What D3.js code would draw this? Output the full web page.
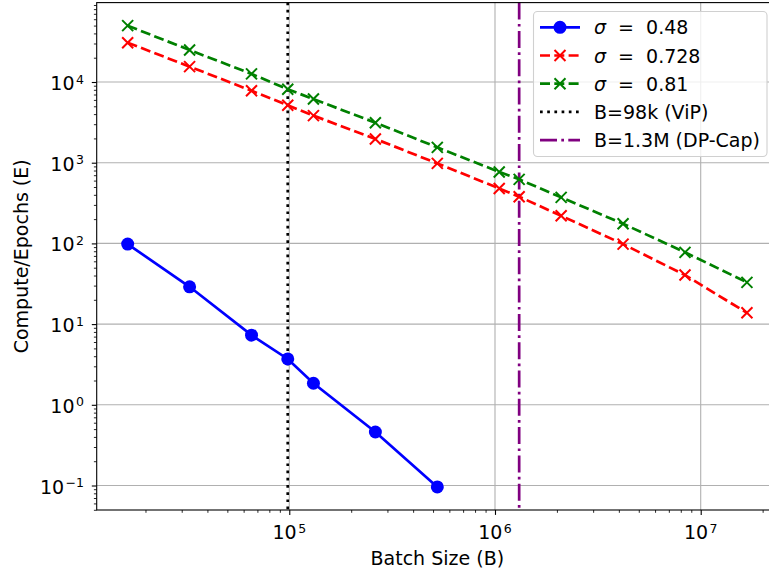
<!DOCTYPE html>
<html>
<head>
<meta charset="utf-8">
<script src="https://cdn.jsdelivr.net/npm/d3@7"></script>
<style>
body { margin: 0; background: #fff; }
svg { font-family: "DejaVu Sans", sans-serif; }
</style>
</head>
<body>
<svg width="769" height="573"></svg>
<script>
// batch sizes
var batchSmall = [16384, 32768, 65536, 98304, 131072, 262144, 524288];
var batchLarge = [16384, 32768, 65536, 98304, 131072, 262144, 524288, 1048576, 1310720, 2097152, 4194304, 8388608, 16777216];

// epochs
var sigma048 = [98, 29, 7.3, 3.7, 1.85, 0.46, 0.096];
var sigma0728 = [30700, 15500, 7800, 5140, 3830, 1970, 980, 480, 379, 220, 98, 40.5, 13.8];
var sigma081 = [49900, 24900, 12600, 8120, 6150, 3130, 1550, 767, 622, 372, 175, 77.5, 32.9];

var vipBatch = 98304;
var dpcapBatch = 1310720;

var sigmaLabels = ["0.48", "0.728", "0.81"];
var lineLabels = ["B=98k (ViP)", "B=1.3M (DP-Cap)"];
var xTicks = [1e5, 1e6, 1e7];
var yTicks = [1e-1, 1e0, 1e1, 1e2, 1e3, 1e4];

var box = {left: 96.7, right: 777.9, top: 2.6, bottom: 510};
var svg = d3.select("svg");

var logPad = function(vals)
{
    var lo = Math.log10(d3.min(vals)), hi = Math.log10(d3.max(vals));
    var m = (hi - lo) * 0.05;
    return [Math.pow(10, lo - m), Math.pow(10, hi + m)];
}

var xScale = d3.scaleLog()
    .domain(logPad(batchSmall.concat(batchLarge)))
    .range([box.left, box.right]);
var yScale = d3.scaleLog()
    .domain(logPad(sigma048.concat(sigma0728, sigma081)))
    .range([box.bottom, box.top]);

var minorOf = function(scale)
{
    var d = scale.domain(), out = [];
    for (var e = Math.floor(Math.log10(d[0])); e <= Math.ceil(Math.log10(d[1])); e++)
        for (var k = 2; k < 10; k++)
        {
            var v = k * Math.pow(10, e);
            if (v >= d[0] && v <= d[1]) out.push(v);
        }
    return out;
}

// grid
var grid = svg.append("g");
grid.selectAll(".gx").data(xTicks).enter().append("line")
    .attr("x1", function(d){return xScale(d);}).attr("x2", function(d){return xScale(d);})
    .attr("y1", box.top).attr("y2", box.bottom)
    .attr("stroke", "#b0b0b0").attr("stroke-width", 1.1);
grid.selectAll(".gy").data(yTicks).enter().append("line")
    .attr("y1", function(d){return yScale(d);}).attr("y2", function(d){return yScale(d);})
    .attr("x1", box.left).attr("x2", box.right)
    .attr("stroke", "#b0b0b0").attr("stroke-width", 1.1);

// vertical reference lines
svg.append("line")
    .attr("x1", xScale(vipBatch)).attr("x2", xScale(vipBatch))
    .attr("y1", box.top).attr("y2", box.bottom)
    .attr("stroke", "black").attr("stroke-width", 2.7)
    .attr("stroke-dasharray", "2.7,4.5");
svg.append("line")
    .attr("x1", xScale(dpcapBatch)).attr("x2", xScale(dpcapBatch))
    .attr("y1", box.top).attr("y2", box.bottom)
    .attr("stroke", "purple").attr("stroke-width", 2.7)
    .attr("stroke-dasharray", "17,4.3,2.7,4.3");

var line = d3.line()
    .x(function(d){return xScale(d[0]);})
    .y(function(d){return yScale(d[1]);});

var xMark = function(g, cx, cy, color)
{
    var s = 5.5;
    g.append("path")
        .attr("d", "M" + (cx - s) + "," + (cy - s) + "L" + (cx + s) + "," + (cy + s) +
                   "M" + (cx - s) + "," + (cy + s) + "L" + (cx + s) + "," + (cy - s))
        .attr("stroke", color).attr("stroke-width", 2).attr("fill", "none");
}

var series = [
    {xs: batchSmall, ys: sigma048, color: "blue", dash: null, marker: "o"},
    {xs: batchLarge, ys: sigma0728, color: "red", dash: "10,4.3", marker: "x"},
    {xs: batchLarge, ys: sigma081, color: "green", dash: "10,4.3", marker: "x"}
];

var plot = svg.append("g");
series.forEach(function(s)
{
    var pts = s.xs.map(function(x, i){return [x, s.ys[i]];});
    plot.append("path")
        .attr("d", line(pts))
        .attr("fill", "none")
        .attr("stroke", s.color)
        .attr("stroke-width", 2.7)
        .attr("stroke-dasharray", s.dash);
    pts.forEach(function(p)
    {
        if (s.marker == "o")
            plot.append("circle")
                .attr("cx", xScale(p[0])).attr("cy", yScale(p[1]))
                .attr("r", 6.5).attr("fill", s.color);
        else
            xMark(plot, xScale(p[0]), yScale(p[1]), s.color);
    });
});

// axes
var xAxis = svg.append("g").attr("transform", "translate(0," + box.bottom + ")");
xAxis.append("g").call(d3.axisBottom(xScale).tickValues(xTicks).tickFormat("").tickSize(4.9))
    .selectAll("line").attr("stroke-width", 1.1);
xAxis.append("g").call(d3.axisBottom(xScale).tickValues(minorOf(xScale)).tickFormat("").tickSize(2.8))
    .selectAll("line").attr("stroke-width", 0.85);
xAxis.selectAll(".domain").remove();

var yAxis = svg.append("g").attr("transform", "translate(" + box.left + ",0)");
yAxis.append("g").call(d3.axisLeft(yScale).tickValues(yTicks).tickFormat("").tickSize(4.9))
    .selectAll("line").attr("stroke-width", 1.1);
yAxis.append("g").call(d3.axisLeft(yScale).tickValues(minorOf(yScale)).tickFormat("").tickSize(2.8))
    .selectAll("line").attr("stroke-width", 0.85);
yAxis.selectAll(".domain").remove();

// spines
svg.append("rect")
    .attr("x", box.left).attr("y", box.top)
    .attr("width", box.right - box.left).attr("height", box.bottom - box.top)
    .attr("fill", "none").attr("stroke", "black").attr("stroke-width", 1.1);

var powLabel = function(sel, v)
{
    var e = Math.round(Math.log10(v));
    sel.append("tspan").text("10");
    sel.append("tspan").attr("dx", 1.5).attr("dy", -6.5).attr("font-size", 12.5)
        .text(e < 0 ? "\u2212" + (-e) : e);
}

xTicks.forEach(function(v)
{
    var t = svg.append("text")
        .attr("x", xScale(v)).attr("y", 539)
        .attr("text-anchor", "middle").attr("font-size", 19);
    powLabel(t, v);
});
yTicks.forEach(function(v)
{
    var t = svg.append("text")
        .attr("x", 84).attr("y", yScale(v) + 8)
        .attr("text-anchor", "end").attr("font-size", 19);
    powLabel(t, v);
});

svg.append("text")
    .attr("x", (box.left + box.right) / 2).attr("y", 565)
    .attr("text-anchor", "middle").attr("font-size", 19)
    .text("Batch Size (B)");
svg.append("text")
    .attr("transform", "translate(28," + ((box.top + box.bottom) / 2) + ") rotate(-90)")
    .attr("text-anchor", "middle").attr("font-size", 19)
    .text("Compute/Epochs (E)");

// legend
var lg = svg.append("g");
lg.append("rect")
    .attr("x", 533.5).attr("y", 11.5).attr("width", 233.5).attr("height", 145)
    .attr("rx", 4).attr("fill", "white").attr("fill-opacity", 0.8)
    .attr("stroke", "#d0d0d0").attr("stroke-width", 1.1);
var handles = [
    {color: "blue", dash: null, marker: "o"},
    {color: "red", dash: "10,4.3", marker: "x"},
    {color: "green", dash: "10,4.3", marker: "x"},
    {color: "black", dash: "2.7,4.5", marker: null},
    {color: "purple", dash: "17,4.3,2.7,4.3", marker: null}
];
handles.forEach(function(h, i)
{
    var cy = 27.3 + i * 28.2;
    lg.append("line")
        .attr("x1", 540).attr("x2", 580).attr("y1", cy).attr("y2", cy)
        .attr("stroke", h.color).attr("stroke-width", 2.7)
        .attr("stroke-dasharray", h.dash);
    if (h.marker == "o")
        lg.append("circle").attr("cx", 560).attr("cy", cy).attr("r", 6.5).attr("fill", h.color);
    else if (h.marker == "x")
        xMark(lg, 560, cy, h.color);
    var t = lg.append("text")
        .attr("x", 594).attr("y", cy + 7)
        .attr("font-size", 19);
    if (i < 3)
    {
        t.append("tspan").attr("font-style", "italic").text("\u03c3");
        t.append("tspan").attr("dx", 6).text(" =");
        t.append("tspan").attr("dx", 6).text(" " + sigmaLabels[i]);
    }
    else
        t.text(lineLabels[i - 3]);
});
</script>
</body>
</html>
